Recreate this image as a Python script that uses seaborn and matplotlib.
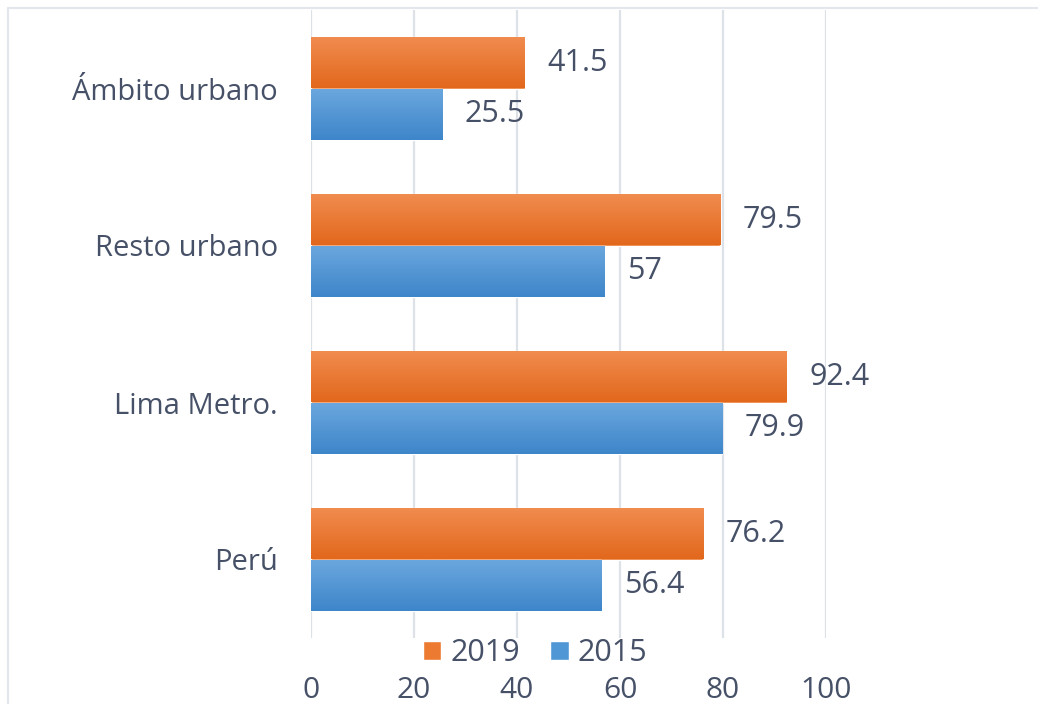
import numpy as np
import pandas as pd
import matplotlib
matplotlib.use("Agg")
import matplotlib.pyplot as plt
import seaborn as sns
from matplotlib.lines import Line2D
from matplotlib.colors import LinearSegmentedColormap

# data
categories = ["Ámbito urbano", "Resto urbano", "Lima Metro.", "Perú"]
years = ["2019", "2015"]
values_2019 = [41.5, 79.5, 92.4, 76.2]
values_2015 = [25.5, 57, 79.9, 56.4]
x_ticks = [0, 20, 40, 60, 80, 100]

df = pd.DataFrame({
    "region": categories * 2,
    "year": [years[0]] * 4 + [years[1]] * 4,
    "value": values_2019 + values_2015,
})

sns.set_style("white")
plt.rcParams["font.family"] = ["Open Sans", "DejaVu Sans"]
text_color = "#465168"
grid_color = "#dde1e8"
colors = {"2019": "#ec7a30", "2015": "#5097d6"}
grads = {"2019": ("#f18c4f", "#e2681d"), "2015": ("#6ba7de", "#3e86ca")}

fig = plt.figure(figsize=(10.38, 7.04), dpi=100)
ax = fig.add_axes([311 / 1038, 1 - 638 / 704, 515 / 1038, 628 / 704])

sns.barplot(data=df, y="region", x="value", hue="year", hue_order=years,
            order=categories, palette=colors, orient="h", width=0.66,
            saturation=1, ax=ax, legend=True)

ax.set_xticks(x_ticks)
ax.set_xlabel("")
ax.set_ylabel("")
ax.grid(axis="x", color=grid_color, linewidth=1.6)
ax.set_axisbelow(True)
for s in ax.spines.values():
    s.set_visible(False)
ax.tick_params(axis="x", length=0, pad=27, labelsize=21.5, labelcolor=text_color)
ax.tick_params(axis="y", length=0, pad=24, labelsize=21, labelcolor=text_color)

# gradient fill on each bar
for cont, yr in zip(ax.containers, years):
    cmap = LinearSegmentedColormap.from_list(yr, [grads[yr][0], grads[yr][1]])
    for p in cont:
        x0, y0 = p.get_x(), p.get_y()
        w, h = p.get_width(), p.get_height()
        im = ax.imshow(np.linspace(0, 1, 50).reshape(-1, 1), cmap=cmap,
                       extent=[x0, x0 + w, y0 + h, y0], aspect="auto",
                       zorder=p.get_zorder() + 0.1)
        im.set_clip_path(p)
    ax.bar_label(cont, labels=[f"{v:g}" for v in cont.datavalues],
                 padding=16, fontsize=22, color=text_color)
ax.set_xlim(0, 100)
ax.set_ylim(3.5, -0.5)

# legend between plot and tick labels
handles, labels = ax.get_legend_handles_labels()
ax.legend(handles, labels, loc="center", bbox_to_anchor=(535 / 1038, 1 - 653 / 704),
          bbox_transform=fig.transFigure, ncol=2, frameon=False,
          fontsize=22, labelcolor=text_color, handlelength=0.6,
          handleheight=0.6, handletextpad=0.3, columnspacing=1.0)

# chart frame lines (top and left)
fig.add_artist(Line2D([8 / 1038, 1], [1 - 8 / 704, 1 - 8 / 704],
                      transform=fig.transFigure, color="#e3e6ec", linewidth=1.5))
fig.add_artist(Line2D([8 / 1038, 8 / 1038], [0, 1 - 8 / 704],
                      transform=fig.transFigure, color="#e3e6ec", linewidth=1.5))

plt.savefig("out.png", dpi=100)
